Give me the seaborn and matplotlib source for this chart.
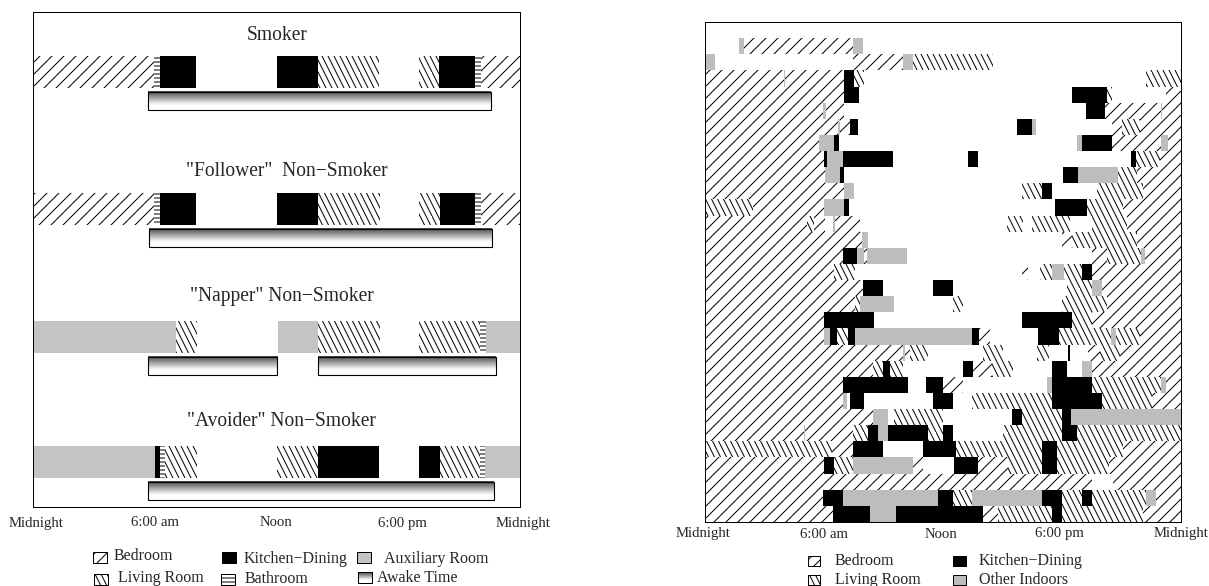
import numpy as np
import matplotlib
matplotlib.use("Agg")
import matplotlib.pyplot as plt
import matplotlib.hatch as mhatch
from matplotlib.colors import LinearSegmentedColormap
from matplotlib.path import Path
from matplotlib.patches import Rectangle
from matplotlib.transforms import blended_transform_factory
import seaborn as sns

# --- left panel: average day of each group, (room, start hour, end hour)
smoker_spans = [("bed", 0, 5.96), ("bath", 5.96, 6.26), ("kit", 6.26, 8.03), ("kit", 12.0, 14.05),
                ("liv", 14.05, 17.05), ("liv", 19.02, 20.01), ("kit", 20.01, 21.78),
                ("bath", 21.78, 22.08), ("bed", 22.08, 24)]
follower_spans = [("bed", 0, 5.96), ("bath", 5.96, 6.26), ("kit", 6.26, 8.03), ("kit", 12.03, 14.05),
                  ("liv", 14.05, 17.1), ("liv", 19.02, 20.06), ("kit", 20.06, 21.78),
                  ("bath", 21.78, 22.08), ("bed", 22.08, 24)]
napper_spans = [("aux", 0, 7.05), ("liv", 7.05, 8.08), ("aux", 12.07, 14.05), ("liv", 14.05, 17.1),
                ("liv", 19.02, 22.03), ("bath", 22.03, 22.33), ("aux", 22.33, 24)]
avoider_spans = [("aux", 0, 6.01), ("kit", 6.01, 6.26), ("bath", 6.26, 6.51), ("liv", 6.51, 8.08),
                 ("liv", 12.03, 14.05), ("kit", 14.05, 17.05), ("kit", 19.02, 20.06),
                 ("liv", 20.06, 22.03), ("bath", 22.03, 22.28), ("aux", 22.28, 24)]

smoker_awake = [(5.67, 22.55)]
follower_awake = [(5.72, 22.62)]
napper_awake = [(5.65, 12.03), (14.05, 22.82)]
avoider_awake = [(5.67, 22.72)]

group_titles = ["Smoker", '"Follower"  Non\u2212Smoker', '"Napper" Non\u2212Smoker', '"Avoider" Non\u2212Smoker']
time_labels = ["Midnight", "6:00 am", "Noon", "6:00 pm", "Midnight"]

# --- right panel: one row per person, (row, start hour, end hour)
bedroom_rows = [
    (1, 1.99, 7.48), (2, 7.5, 10.0), (3, 0, 7.03), (4, 0, 7.03), (4, 23.25, 24),
    (5, 0, 5.97), (5, 6.12, 7.03), (5, 20.18, 23.0), (5, 23.05, 24),
    (6, 0, 6.74), (6, 6.83, 7.33), (6, 20.51, 21.03), (6, 21.94, 24),
    (7, 0, 5.77), (7, 20.53, 23.0), (7, 23.35, 24), (8, 0, 6.02), (8, 22.95, 24),
    (9, 0, 6.07), (9, 21.77, 24), (10, 0, 7.03), (10, 22.11, 24),
    (11, 2.46, 6.02), (11, 21.1, 24), (12, 0, 5.15), (12, 5.52, 6.07), (12, 6.56, 7.83), (12, 21.27, 24),
    (13, 0, 7.92), (13, 18.01, 18.5), (13, 21.77, 24),
    (14, 0, 6.98), (14, 8.03, 8.19), (14, 19.5, 20.26), (14, 22.19, 24),
    (15, 0, 6.52), (15, 16.0, 16.3), (15, 19.52, 24), (16, 0, 7.98), (16, 20.03, 24),
    (17, 0, 7.58), (17, 20.26, 24), (18, 0, 6.02), (18, 19.5, 24),
    (19, 0, 6.02), (19, 13.83, 14.38), (19, 21.94, 24),
    (20, 0, 10.02), (20, 10.1, 10.35), (20, 19.34, 19.93), (20, 20.93, 24),
    (21, 0, 8.51), (21, 13.53, 14.47), (21, 19.52, 24),
    (22, 0, 6.98), (22, 12.01, 13.04), (22, 23.25, 24), (23, 0, 6.98), (23, 22.53, 24),
    (24, 0, 8.49), (25, 0, 7.5), (26, 6.43, 7.47), (26, 21.07, 24),
    (27, 0, 6.03), (27, 10.52, 11.03), (27, 13.79, 15.29), (27, 20.39, 24),
    (28, 0, 19.54), (28, 20.56, 24), (29, 0, 5.97), (29, 22.74, 24),
    (30, 0, 6.47), (30, 14.03, 14.77), (30, 22.09, 24),
]
living_rows = [
    (2, 10.5, 14.53), (3, 7.53, 8.03), (3, 22.23, 24), (4, 20.28, 20.53), (6, 21.03, 21.94),
    (8, 21.74, 22.95), (9, 20.83, 21.77), (10, 16.0, 17.0), (10, 19.76, 22.11),
    (11, 0, 2.46), (11, 19.29, 21.1), (12, 5.15, 5.52), (12, 15.22, 16.03), (12, 16.48, 18.41), (12, 19.5, 21.27),
    (13, 18.5, 21.77), (14, 20.26, 21.97), (15, 6.52, 7.58), (15, 16.9, 17.51), (15, 18.11, 19.02),
    (16, 18.25, 19.52), (17, 7.58, 7.83), (17, 12.54, 13.04), (17, 18.01, 20.26), (18, 18.51, 19.5),
    (19, 6.68, 7.23), (19, 17.86, 20.48), (19, 20.73, 21.94),
    (20, 10.35, 11.28), (20, 14.05, 15.05), (20, 16.73, 17.37), (20, 19.93, 20.93),
    (21, 8.51, 8.98), (21, 9.35, 10.02), (21, 14.47, 15.53), (22, 19.52, 23.0),
    (23, 13.48, 17.51), (23, 20.03, 22.53), (24, 9.55, 12.03), (24, 16.0, 18.01),
    (25, 7.5, 8.24), (25, 11.26, 12.01), (25, 15.05, 18.01), (25, 18.77, 24),
    (26, 0, 6.43), (26, 12.66, 16.99), (26, 17.77, 21.07),
    (27, 6.54, 7.47), (27, 15.29, 16.99), (27, 17.77, 20.39),
    (29, 12.51, 13.46), (29, 18.01, 19.01), (29, 19.52, 22.23),
    (30, 14.77, 17.5), (30, 18.01, 22.09),
]
kitchen_rows = [
    (3, 7.03, 7.53), (4, 7.03, 7.78), (4, 18.51, 20.28), (5, 19.22, 20.18), (6, 7.33, 7.73), (6, 15.74, 16.5),
    (7, 6.52, 6.78), (7, 19.02, 20.53), (8, 6.02, 6.17), (8, 6.98, 9.5), (8, 13.28, 13.78), (8, 21.49, 21.74),
    (9, 6.83, 7.03), (9, 18.06, 18.82), (10, 17.0, 17.51), (11, 7.03, 7.28), (11, 17.66, 19.29),
    (14, 6.98, 7.68), (15, 19.02, 19.52), (16, 7.98, 8.99), (16, 11.51, 12.52),
    (18, 6.02, 8.54), (18, 16.0, 18.51), (19, 6.32, 6.68), (19, 7.23, 7.58), (19, 13.48, 13.83), (19, 16.8, 17.86),
    (20, 18.31, 18.41), (21, 8.98, 9.35), (21, 13.02, 13.53), (21, 17.51, 18.26),
    (22, 6.98, 10.25), (22, 11.16, 12.01), (22, 17.51, 19.52), (23, 7.33, 8.03), (23, 11.51, 12.52), (23, 17.51, 20.03),
    (24, 15.49, 16.0), (24, 18.01, 18.46), (25, 8.24, 8.74), (25, 9.24, 11.26), (25, 12.01, 12.52), (25, 18.01, 18.77),
    (26, 7.47, 8.99), (26, 11.03, 12.66), (26, 16.99, 17.77), (27, 6.03, 6.54), (27, 12.56, 13.79), (27, 16.99, 17.77),
    (29, 5.97, 6.98), (29, 11.76, 12.51), (29, 17.0, 18.01), (29, 19.01, 19.52),
    (30, 6.47, 8.34), (30, 9.65, 14.03), (30, 17.5, 18.01),
]
other_rows = [
    (1, 1.74, 1.99), (1, 7.48, 7.98), (2, 0, 0.53), (2, 10.0, 10.5), (3, 4.02, 4.06), (5, 5.97, 6.12), (5, 23.0, 23.05),
    (6, 6.74, 6.83), (6, 16.5, 16.7), (7, 5.77, 6.52), (7, 18.77, 19.02), (7, 23.0, 23.35),
    (8, 6.17, 6.98), (9, 6.07, 6.83), (9, 18.82, 20.83), (10, 7.03, 7.53), (11, 6.02, 7.03),
    (12, 6.46, 6.56), (13, 7.92, 8.24), (14, 7.68, 8.03), (14, 8.19, 10.2), (14, 21.97, 22.19),
    (15, 17.51, 18.11), (16, 19.52, 20.03), (17, 7.83, 9.55), (19, 6.02, 6.32), (19, 7.58, 13.48), (19, 20.48, 20.73),
    (20, 10.02, 10.1), (21, 19.02, 19.52), (22, 17.25, 17.51), (22, 23.0, 23.25), (23, 6.98, 7.18),
    (24, 8.49, 9.24), (24, 18.46, 24), (25, 5.01, 5.05), (25, 8.74, 9.24), (27, 7.47, 10.52),
    (29, 6.98, 11.76), (29, 13.46, 17.0), (29, 22.23, 22.74), (30, 8.34, 9.65),
]


class SteepBackHatch(mhatch.HatchPatternBase):
    # the living room lines in the figure are steeper than matplotlib's 45 degrees
    def __init__(self, hatch, density):
        self.num_lines = int(hatch.count("\\") * density)
        self.num_vertices = (self.num_lines + self.num_lines // 2) * 2

    def set_vertices_and_codes(self, vertices, codes):
        n = self.num_lines
        starts = np.arange(-(n // 2), n) / n
        vertices[0::2, 0] = starts
        vertices[0::2, 1] = 1
        vertices[1::2, 0] = starts + 0.5
        vertices[1::2, 1] = 0
        codes[0::2] = Path.MOVETO
        codes[1::2] = Path.LINETO


mhatch._hatch_types = [SteepBackHatch if t is mhatch.SouthEastHatch else t for t in mhatch._hatch_types]

sns.set_theme(style="white", rc={"hatch.linewidth": 1.0, "axes.linewidth": 1.0, "axes.edgecolor": "black"})
plt.rcParams["font.family"] = ["Liberation Serif", "DejaVu Serif"]

ROOM_STYLE = {
    "bed": dict(color="white", edgecolor="black", hatch="//", linewidth=0),
    "liv": dict(color="white", edgecolor="black", hatch="\\\\", linewidth=0),
    "bath": dict(color="white", edgecolor="black", hatch="---", linewidth=0),
    "kit": dict(color="black", edgecolor="black", linewidth=0),
    "aux": dict(color="#c4c4c4", edgecolor="#c4c4c4", linewidth=0),
    "other": dict(color="#bdbdbd", edgecolor="#bdbdbd", linewidth=0),
}
awake_cmap = LinearSegmentedColormap.from_list("awake", [(0, "#484848"), (0.72, "white"), (1, "white")])
shade = np.linspace(0, 1, 64)[:, None]

W, H = 1209, 586
fig = plt.figure(figsize=(W / 72, H / 72), dpi=72)


def panel(left, top, right, bottom):
    return fig.add_axes([left / W, 1 - bottom / H, (right - left) / W, (bottom - top) / H])


def draw_span(ax, room, y, height, start, end):
    sns.barplot(x=[end - start], y=[y], left=start, orient="h", native_scale=True, width=height,
                errorbar=None, saturation=1, ax=ax, **ROOM_STYLE[room])


def finish_axis(ax, ylim, hours, label_y):
    ax.set_xlim(0, 24)
    ax.set_ylim(*ylim)
    ax.set_xticks([])
    ax.set_yticks([])
    ax.set_xlabel("")
    ax.set_ylabel("")
    trans = blended_transform_factory(ax.transData, fig.transFigure)
    for h, lab in zip(hours, time_labels):
        ax.text(h, 1 - label_y / H, lab, transform=trans, ha="center", va="center", fontsize=14.7, clip_on=False)


# left panel, y in pixels below the frame top
ax1 = panel(33, 12, 520, 507)
group_rows = [43, 180, 308, 433]
group_title_y = [23, 159, 284, 410]
group_title_x = [12.05, 12.5, 12.25, 12.25]
for spans, awake, row_y, title, ty, tx in zip(
        [smoker_spans, follower_spans, napper_spans, avoider_spans],
        [smoker_awake, follower_awake, napper_awake, avoider_awake],
        group_rows, group_titles, group_title_y, group_title_x):
    for room, start, end in spans:
        draw_span(ax1, room, row_y + 16.5, 32, start, end)
    for start, end in awake:
        bar_top, bar_bot = row_y + 36.5, row_y + 55
        ax1.imshow(shade, cmap=awake_cmap, aspect="auto", origin="upper",
                   extent=(start, end, bar_bot, bar_top), interpolation="bilinear", zorder=1.5)
        sns.barplot(x=[end - start], y=[(bar_top + bar_bot) / 2], left=start, orient="h", native_scale=True,
                    width=bar_bot - bar_top, errorbar=None, fill=False, color="black", linewidth=1.1,
                    saturation=1, ax=ax1, zorder=2)
    ax1.text(tx, ty, title, ha="center", va="center", fontsize=19.5)
finish_axis(ax1, (495, 0), [0.17, 6.0, 11.95, 18.2, 24.13], 523)

# right panel, one row per person
ax2 = panel(704.5, 22, 1181, 522)
for room, rows in [("bed", bedroom_rows), ("liv", living_rows), ("kit", kitchen_rows), ("other", other_rows)]:
    for row, start, end in rows:
        draw_span(ax2, room, row + 0.5, 1.0, start, end)
finish_axis(ax2, (31, 0), [-0.08, 6.02, 11.9, 17.9, 24.0], 534)

# legends, set by hand as in the original
lg = fig.add_axes([0, 0, 1, 1], zorder=5)
lg.set_xlim(0, W)
lg.set_ylim(H, 0)
lg.axis("off")


def legend_item(room, x, y, w, h, text, tx, ty):
    style = dict(ROOM_STYLE[room]) if room != "awake" else dict(color="none", edgecolor="black")
    style["facecolor"] = style.pop("color")
    style["linewidth"] = 1.0
    style["edgecolor"] = "black"
    if room == "awake":
        lg.imshow(shade, cmap=awake_cmap, aspect="auto", origin="upper", extent=(x, x + w, y + h, y))
        lg.set_xlim(0, W)
        lg.set_ylim(H, 0)
    lg.add_patch(Rectangle((x, y), w, h, **style))
    lg.text(tx, ty, text, ha="left", va="center", fontsize=16)


legend_item("bed", 93, 552, 14, 11, "Bedroom", 114, 556)
legend_item("liv", 94, 574, 14, 11, "Living Room", 118, 578)
legend_item("kit", 222, 552, 14, 11, "Kitchen\u2212Dining", 243.5, 559)
legend_item("bath", 221, 574, 14, 11, "Bathroom", 245, 579)
legend_item("aux", 357, 552, 14, 11, "Auxiliary Room", 384, 559)
legend_item("awake", 358, 572, 14, 11, "Awake Time", 377, 578)
legend_item("bed", 808, 556, 12, 10, "Bedroom", 835, 561)
legend_item("liv", 808, 575, 12, 10, "Living Room", 835, 580)
legend_item("kit", 953, 556, 13, 10, "Kitchen\u2212Dining", 979, 561)
legend_item("other", 953, 575, 13, 10, "Other Indoors", 979, 580)

fig.savefig("out.png", dpi=72)
